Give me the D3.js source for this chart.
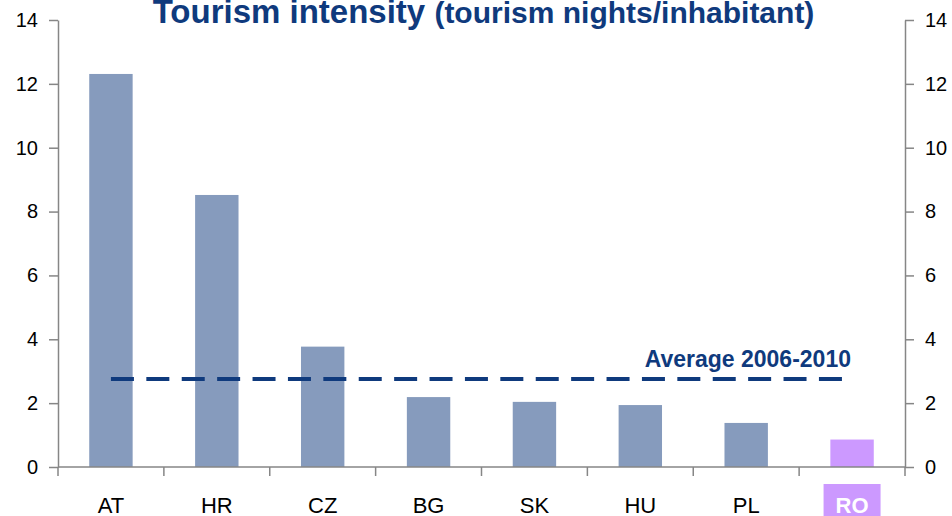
<!DOCTYPE html>
<html>
<head>
<meta charset="utf-8">
<script src="https://cdn.jsdelivr.net/npm/d3@7"></script>
<style>
  html, body { margin: 0; padding: 0; background: #fff; }
  svg { display: block; font-family: "Liberation Sans", Arial, sans-serif; }
</style>
</head>
<body>
<script>
// data
var countries = ["AT", "HR", "CZ", "BG", "SK", "HU", "PL", "RO"];
var nights = [12.31, 8.52, 3.77, 2.19, 2.04, 1.94, 1.38, 0.86];
var highlight = ["RO"];
var average = 2.76;
var yTicks = [0, 2, 4, 6, 8, 10, 12, 14];

var width = 952, height = 516;
// note: "top" is taken by window.top, so plot edges get their own names
var plotLeft = 58, plotRight = 905, plotTop = 20, plotBottom = 467;

var blue = "#0f3a7d";
var axisGray = "#868686";

var svg = d3.select("body").append("svg")
    .attr("width", width)
    .attr("height", height);

var x = d3.scaleBand().domain(countries).range([plotLeft, plotRight]);
var y = d3.scaleLinear().domain([0, 14]).range([plotBottom, plotTop]);

var barW = x.bandwidth() * 0.41;

// bars
svg.append("g").selectAll("rect")
    .data(countries)
    .enter().append("rect")
    .attr("x", d => x(d) + (x.bandwidth() - barW) / 2)
    .attr("width", barW)
    .attr("y", (d, i) => y(nights[i]))
    .attr("height", (d, i) => y(0) - y(nights[i]))
    .style("fill", d => highlight.includes(d) ? "#cc99ff" : "#869bbd");

// axes
function styleAxis(g) {
    g.selectAll("path, line").style("stroke", axisGray).style("stroke-width", 1.5);
    g.selectAll("text").style("font-size", "20px").style("fill", "#000");
}

svg.append("g")
    .attr("transform", "translate(" + plotLeft + ",0)")
    .call(d3.axisLeft(y).tickValues(yTicks).tickSize(9).tickSizeOuter(0).tickPadding(11))
    .call(styleAxis);

svg.append("g")
    .attr("transform", "translate(" + plotRight + ",0)")
    .call(d3.axisRight(y).tickValues(yTicks).tickSize(9).tickSizeOuter(0).tickPadding(11))
    .call(styleAxis);

// category axis
var xAxis = svg.append("g");
xAxis.append("line")
    .attr("x1", plotLeft).attr("x2", plotRight)
    .attr("y1", y(0)).attr("y2", y(0));
xAxis.selectAll(".sep")
    .data(countries.map(d => x(d)).concat([plotRight]))
    .enter().append("line")
    .attr("class", "sep")
    .attr("x1", d => d).attr("x2", d => d)
    .attr("y1", y(0)).attr("y2", y(0) + 9);
xAxis.selectAll("line").style("stroke", axisGray).style("stroke-width", 1.5);

var labels = svg.append("g").selectAll("g")
    .data(countries)
    .enter().append("g")
    .attr("transform", d => "translate(" + (x(d) + x.bandwidth() / 2) + ",513)");

labels.each(function(d) {
    var g = d3.select(this);
    var hl = highlight.includes(d);
    var t = g.append("text")
        .attr("text-anchor", "middle")
        .style("font-size", "22px")
        .style("font-weight", hl ? "bold" : "normal")
        .style("fill", hl ? "#fff" : "#000")
        .text(d);
    if (hl) {
        var w = t.node().getComputedTextLength();
        g.insert("rect", "text")
            .attr("x", -w / 2 - 12)
            .attr("y", -29)
            .attr("width", w + 24)
            .attr("height", 40)
            .style("fill", "#cc99ff");
    }
});

// average line
svg.append("line")
    .attr("x1", x(countries[0]) + x.bandwidth() / 2)
    .attr("x2", x(countries[countries.length - 1]) + x.bandwidth() / 2)
    .attr("y1", y(average))
    .attr("y2", y(average))
    .style("stroke", blue)
    .style("stroke-width", 4)
    .style("stroke-dasharray", "23,12.4");

svg.append("text")
    .attr("x", 851)
    .attr("y", 367)
    .attr("text-anchor", "end")
    .style("font-size", "23px")
    .style("font-weight", "bold")
    .style("fill", blue)
    .text("Average 2006-2010");

// title
var title = svg.append("text")
    .attr("x", (plotLeft + plotRight) / 2 + 2)
    .attr("y", 23)
    .attr("text-anchor", "middle")
    .style("font-weight", "bold")
    .style("fill", blue);
title.append("tspan").style("font-size", "33px").text("Tourism intensity ");
title.append("tspan").style("font-size", "30px").text("(tourism nights/inhabitant)");
</script>
</body>
</html>
